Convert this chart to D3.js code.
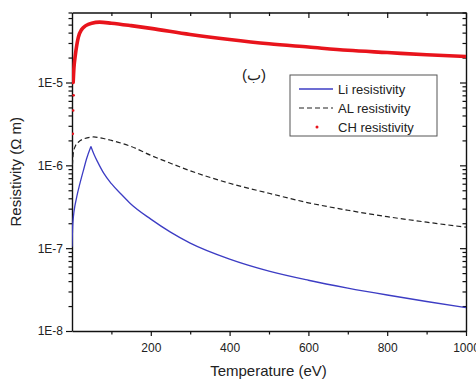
<!DOCTYPE html>
<html>
<head>
<meta charset="utf-8">
<script src="https://cdn.jsdelivr.net/npm/d3@7"></script>
<style>
  body { margin: 0; background: #fff; }
  svg { display: block; font-family: "Liberation Sans", Arial, sans-serif; }
</style>
</head>
<body>
<svg id="chart" width="476" height="381"></svg>
<script>
// values (temperature in eV, resistivity in ohm m)
const liT   = [0, 2, 12, 20, 29, 37, 48, 56, 65, 80, 100, 125, 150, 200, 250, 300, 400, 500, 600, 700, 800, 900, 1000];
const liRes = [1.04e-7, 1.98e-7, 4.15e-7, 6.0e-7, 8.7e-7, 1.2e-6, 1.69e-6, 1.35e-6, 1.1e-6, 8.1e-7, 6.0e-7, 4.47e-7, 3.39e-7, 2.24e-7, 1.56e-7, 1.15e-7, 7.37e-8, 5.28e-8, 4.1e-8, 3.3e-8, 2.72e-8, 2.27e-8, 1.92e-8];

const alT   = [0, 1, 3, 8, 16, 30, 55, 80, 100, 150, 200, 250, 300, 400, 500, 600, 700, 800, 900, 1000];
const alRes = [8.0e-7, 1.0e-6, 1.36e-6, 1.69e-6, 1.9e-6, 2.09e-6, 2.2e-6, 2.11e-6, 2.0e-6, 1.69e-6, 1.32e-6, 1.06e-6, 8.6e-7, 6.07e-7, 4.6e-7, 3.53e-7, 2.87e-7, 2.4e-7, 2.06e-7, 1.79e-7];

const chT   = [0, 1, 2, 3, 5, 8, 12, 16, 25, 35, 50, 70, 100, 150, 200, 300, 400, 500, 600, 700, 800, 900, 1000];
const chRes = [2.4e-6, 4.6e-6, 7.0e-6, 1.0e-5, 1.52e-5, 2.06e-5, 2.8e-5, 3.5e-5, 4.4e-5, 4.86e-5, 5.2e-5, 5.35e-5, 5.2e-5, 4.86e-5, 4.5e-5, 3.8e-5, 3.3e-5, 2.93e-5, 2.68e-5, 2.45e-5, 2.3e-5, 2.16e-5, 2.06e-5];

const xMajor = [200, 400, 600, 800, 1000];
const xMinor = [100, 300, 500, 700, 900];
const yDecades = [1e-8, 1e-7, 1e-6, 1e-5];
const legendLabels = ["Li resistivity", "AL resistivity", "CH resistivity"];
const xTitle = "Temperature (eV)";
const yTitle = "Resistivity (\u03A9 m)";
const panelLabel = "(\u0628)";

const margin = {top: 12.5, right: 10, bottom: 50, left: 72},
  width = 476 - margin.left - margin.right,
  height = 381 - margin.top - margin.bottom;

const svg = d3.select("#chart");
const g = svg.append("g")
  .attr("transform", `translate(${margin.left},${margin.top})`);

const x = d3.scaleLinear().domain([0, 1000]).range([0, width]);
const y = d3.scaleLog().domain([1e-8, 7e-5]).range([height, 0]);

// minor log ticks 2..9 within every decade, clipped to domain
const yMinor = [];
yDecades.forEach(d => {
  for (let k = 2; k <= 9; k++) {
    const v = d * k;
    if (v <= 7.0001e-5) yMinor.push(v);
  }
});
const fmt = d => "1E" + Math.round(Math.log10(d));

g.append("defs").append("clipPath").attr("id", "plot")
  .append("rect").attr("width", width).attr("height", height);

const styleAxis = sel => {
  sel.selectAll("path").attr("stroke", "#111").attr("stroke-width", 1.4);
  sel.selectAll("line").attr("stroke", "#111").attr("stroke-width", 1.2);
  sel.selectAll("text").attr("fill", "#222").style("font-size", "12px");
};

// bottom
g.append("g").attr("transform", `translate(0,${height})`)
  .call(d3.axisBottom(x).tickValues(xMajor).tickSize(5).tickSizeOuter(0).tickPadding(7).tickFormat(d3.format("d")))
  .call(styleAxis);
g.append("g").attr("transform", `translate(0,${height})`)
  .call(d3.axisBottom(x).tickValues(xMinor).tickSize(3.5).tickFormat(""))
  .call(styleAxis).call(s => s.select(".domain").remove());
// top (ticks inward)
g.append("g")
  .call(d3.axisBottom(x).tickValues(xMajor).tickSize(5.5).tickSizeOuter(0).tickFormat(""))
  .call(styleAxis);
g.append("g")
  .call(d3.axisBottom(x).tickValues(xMinor).tickSize(3.5).tickFormat(""))
  .call(styleAxis).call(s => s.select(".domain").remove());
// left
g.append("g")
  .call(d3.axisLeft(y).tickValues(yDecades).tickSize(6).tickSizeOuter(0).tickPadding(3).tickFormat(fmt))
  .call(styleAxis);
g.append("g")
  .call(d3.axisLeft(y).tickValues(yMinor).tickSize(3.5).tickFormat(""))
  .call(styleAxis).call(s => s.select(".domain").remove());
// right (ticks inward)
g.append("g").attr("transform", `translate(${width},0)`)
  .call(d3.axisLeft(y).tickValues(yDecades).tickSize(6).tickSizeOuter(0).tickFormat(""))
  .call(styleAxis);
g.append("g").attr("transform", `translate(${width},0)`)
  .call(d3.axisLeft(y).tickValues(yMinor).tickSize(3.5).tickFormat(""))
  .call(styleAxis).call(s => s.select(".domain").remove());

// curves
const plot = g.append("g").attr("clip-path", "url(#plot)");
const line = d3.line().x(d => x(d[0])).y(d => y(d[1])).curve(d3.curveMonotoneX);

plot.append("path")
  .datum(d3.zip(alT, alRes))
  .attr("fill", "none").attr("stroke", "#222").attr("stroke-width", 1.2)
  .attr("stroke-dasharray", "5,3")
  .attr("d", line);

// Li has a sharp cusp at its peak: draw rise and fall separately so it stays pointed
const liPts = d3.zip(liT, liRes);
const peak = d3.maxIndex(liRes);
[liPts.slice(0, peak + 1), liPts.slice(peak)].forEach(seg => {
  plot.append("path")
    .datum(seg)
    .attr("fill", "none").attr("stroke", "#3d3dc4").attr("stroke-width", 1.3)
    .attr("stroke-linejoin", "miter")
    .attr("d", line);
});

plot.append("path")
  .datum(d3.zip(chT, chRes).filter(d => d[0] >= 3))
  .attr("fill", "none").attr("stroke", "#e8141c").attr("stroke-width", 3.6)
  .attr("stroke-linecap", "round")
  .attr("d", line);

plot.selectAll(".ch-dot")
  .data(d3.zip(chT, chRes).filter(d => d[0] < 3))
  .join("circle")
  .attr("class", "ch-dot")
  .attr("cx", d => x(d[0]) + 0.8)
  .attr("cy", d => y(d[1]))
  .attr("r", 1.3)
  .attr("fill", "#e8141c");

// axis titles
svg.append("text")
  .attr("x", margin.left + width / 2 - 0.5).attr("y", 376)
  .attr("text-anchor", "middle").attr("fill", "#222")
  .style("font-size", "15px").text(xTitle);
svg.append("text")
  .attr("transform", `translate(21,${margin.top + height / 2}) rotate(-90)`)
  .attr("text-anchor", "middle").attr("fill", "#222")
  .style("font-size", "15px").text(yTitle);

// panel label
svg.append("text")
  .attr("x", 254).attr("y", 80)
  .attr("text-anchor", "middle").attr("fill", "#222")
  .style("font-size", "15px").text(panelLabel);

// legend
const legend = svg.append("g").attr("transform", "translate(290,75)");
legend.append("rect")
  .attr("width", 147).attr("height", 61)
  .attr("fill", "#fff").attr("stroke", "#555").attr("stroke-width", 1);
const rows = legend.selectAll(".row").data(legendLabels).join("g")
  .attr("class", "row")
  .attr("transform", (d, i) => `translate(0,${14 + i * 19})`);
rows.append("text")
  .attr("x", 48).attr("y", 5)
  .attr("fill", "#222").style("font-size", "13px")
  .text(d => d);
rows.filter((d, i) => i === 0).append("line")
  .attr("x1", 9).attr("x2", 43).attr("stroke", "#3d3dc4").attr("stroke-width", 1.3);
rows.filter((d, i) => i === 1).append("line")
  .attr("x1", 9).attr("x2", 43).attr("stroke", "#222").attr("stroke-width", 1.2)
  .attr("stroke-dasharray", "5,3");
rows.filter((d, i) => i === 2).append("circle")
  .attr("cx", 27).attr("cy", 0).attr("r", 1.5).attr("fill", "#e8141c");
</script>
</body>
</html>
